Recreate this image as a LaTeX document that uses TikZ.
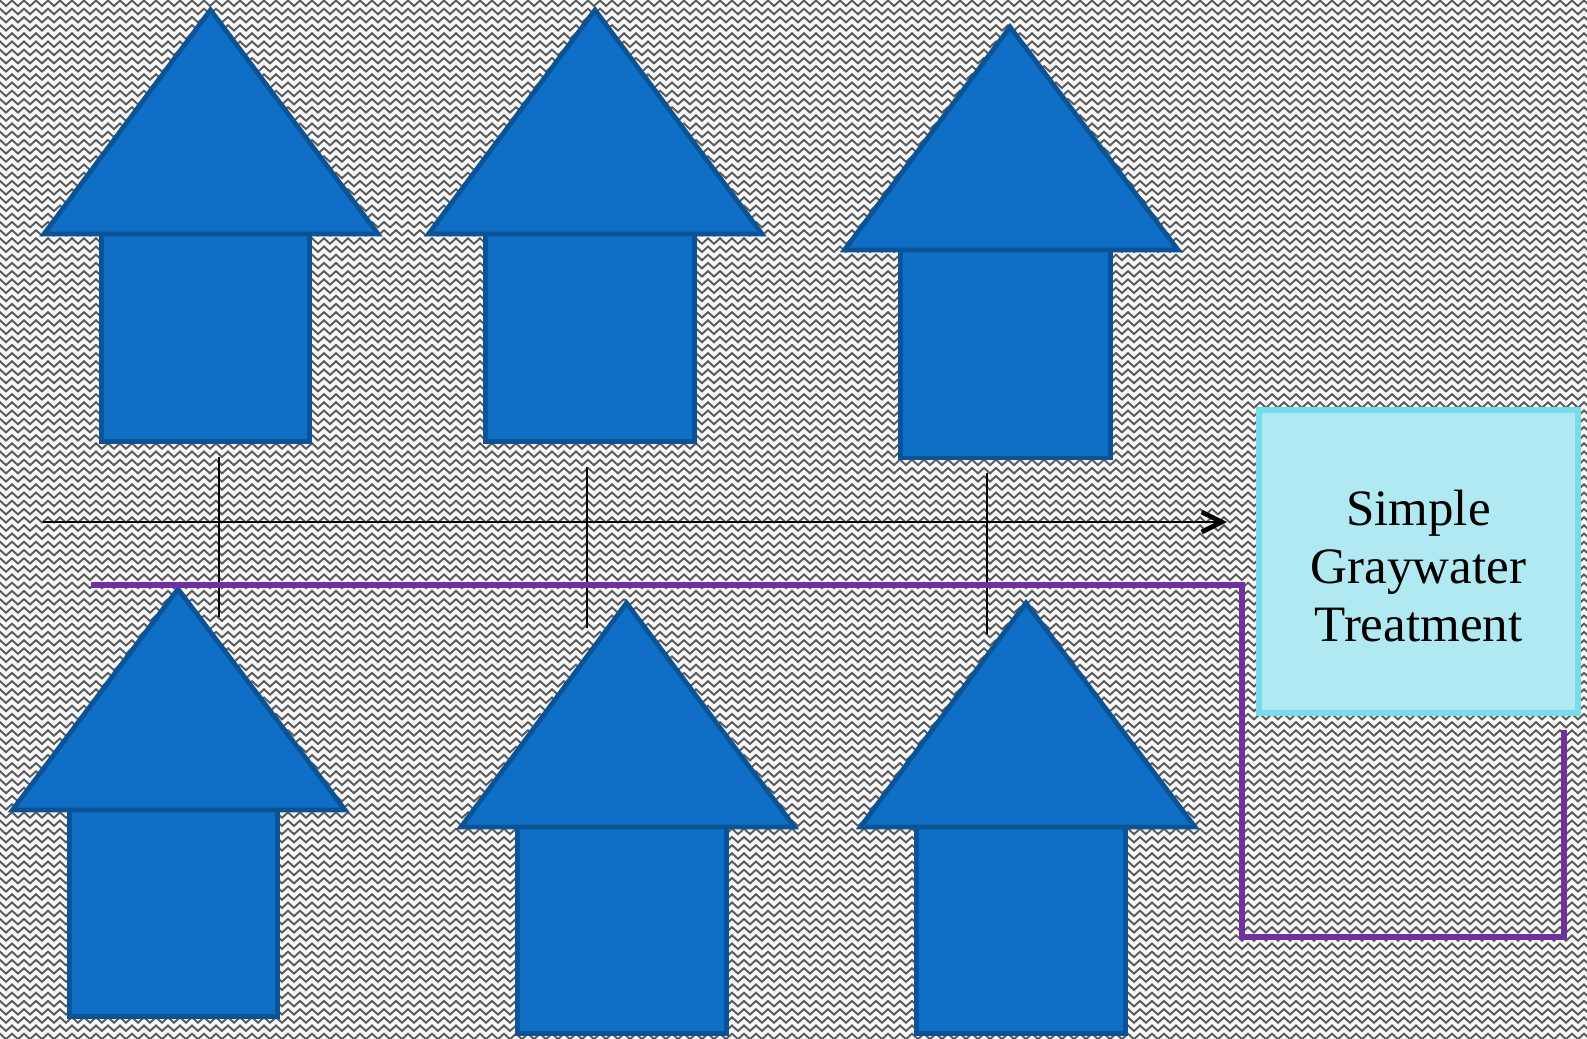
\documentclass[tikz,border=0pt]{standalone}
\usepackage{fontspec}
\setmainfont{Liberation Serif}
\usetikzlibrary{arrows.meta}
\definecolor{houseblue}{HTML}{0F6FC6}
\definecolor{houseedge}{HTML}{0B5394}
\definecolor{boxfill}{HTML}{B0E9F1}
\definecolor{boxedge}{HTML}{76DCEB}
\definecolor{pipe}{HTML}{7030A0}
\definecolor{wavegray}{HTML}{5A5A5A}
\tikzset{
  house/.style={fill=houseblue,draw=houseedge,line width=2.4pt,line join=miter},
  wave/.style={draw=wavegray,line width=0.95pt,line join=miter},
  thinline/.style={draw=black,line width=0.8pt},
  pipeline/.style={draw=pipe,line width=3pt,line join=miter},
  mainbox/.style={fill=boxfill,draw=boxedge,line width=3pt}
}
\newcommand{\onehouse}[8]{% apexx apexy left right baseY rectL rectR bottom
  \draw[house] (#6,#5) rectangle (#7,#8);
  \draw[house] (#1,#2) -- (#3,#5) -- (#4,#5) -- cycle;
}
\begin{document}
\begin{tikzpicture}[x=0.5pt,y=-0.5pt]
\useasboundingbox (0,0) rectangle (1587,1039);
\fill[white!97!black] (0,0) rectangle (1587,1039);
\begin{scope}
\clip (0,0) rectangle (1587,1039);
\foreach \r in {0,...,126}{
  \pgfmathsetmacro{\yy}{6+8.2*\r}
  \draw[wave] (-6,\yy)
    \foreach \k in {0,...,133}{ -- ++(6,-5.5) -- ++(6,5.5) };
}
\end{scope}
\onehouse{210.5}{10}{44}{378}{234}{101.5}{309.5}{441.5}
\onehouse{595}{10}{428.5}{762}{234}{485.5}{694.5}{441.5}
\onehouse{1010}{27}{844.5}{1178}{250}{900.5}{1110.5}{458}
\onehouse{178}{589}{12.5}{345}{810}{69.5}{277.5}{1016.5}
\onehouse{626.5}{603}{461}{794.5}{827}{517.5}{726.5}{1033.5}
\onehouse{1026}{603}{860.5}{1195}{827}{916.5}{1125.5}{1033.5}
\coordinate (v1a) at (219,456.5); \coordinate (v1b) at (219,617);
\coordinate (v2a) at (587,466.5);   \coordinate (v2b) at (587,627.5);
\coordinate (v3a) at (987,472.6);   \coordinate (v3b) at (987,633.5);
\coordinate (mainA) at (42.5,522);  \coordinate (mainB) at (1227,522);
\coordinate (p0) at (91,585); \coordinate (p1) at (1242,585);
\coordinate (p2) at (1242,937); \coordinate (p3) at (1563.5,937);
\coordinate (p4) at (1563.5,730);
\draw[thinline] (v1a) -- (v1b);
\draw[thinline] (v2a) -- (v2b);
\draw[thinline] (v3a) -- (v3b);
\draw[thinline,-{Straight Barb[length=10pt,width=10pt,line width=2.4pt]}] (mainA) -- (mainB);
\draw[pipeline] (p0) -- (p1) -- (p2) -- (p3) -- (p4);
\node[mainbox,minimum width=159.5pt,minimum height=151.5pt,inner sep=0pt,font=\fontsize{25.5}{29}\selectfont] (treat) at (1418.5,561) {\begin{tabular}{@{}c@{}}\rule{0pt}{31.3pt}Simple\\Graywater\\Treatment\end{tabular}};
\end{tikzpicture}
\end{document}
